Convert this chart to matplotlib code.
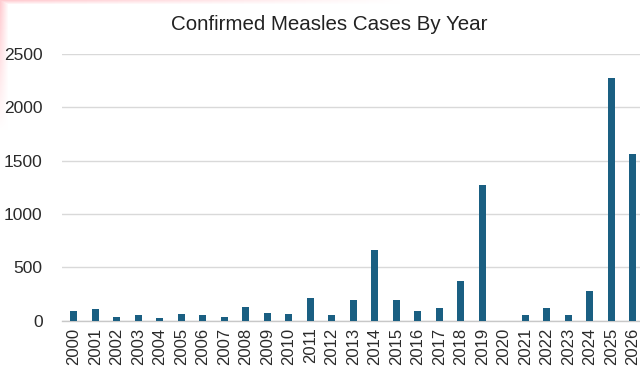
import matplotlib
matplotlib.use('Agg')
import matplotlib.pyplot as plt
import numpy as np

plt.rcParams['font.family'] = ['Liberation Sans', 'DejaVu Sans']

# Confirmed measles cases per year
years = [str(y) for y in range(2000, 2027)]
cases = [88, 110, 38, 50, 28, 63, 50, 38, 128, 75, 63, 213,
         50, 191, 660, 191, 88, 122, 376, 1272, 0, 50, 122, 50,
         282, 2278, 1565]

bar_color = '#1a5f82'
grid_color = '#d9d9d9'

fig = plt.figure(figsize=(6.4, 3.7), dpi=100)

# faint pink wash along the top and left edges
bg = fig.add_axes([0, 0, 1, 1], zorder=-10)
h, w = 370, 640
yy, xx = np.mgrid[0:h, 0:w]
top = np.clip(1 - yy / 4.0, 0, 1) * np.clip(1 - xx / 400.0, 0, 1)
left = np.clip(1 - xx / 8.0, 0, 1) * np.clip(1 - yy / 130.0, 0, 1)
strength = np.clip(np.maximum(top, left) * 0.2, 0, 1)
img = np.ones((h, w, 3))
img[..., 1] -= strength
img[..., 2] -= strength * 0.9
bg.imshow(img, aspect='auto', extent=(0, w, h, 0))
bg.axis('off')

ax = fig.add_axes([0.097, 0.1335, 0.903, 0.7205])
x = np.arange(len(years))
ax.bar(x, cases, width=0.34, color=bar_color, zorder=3)

ax.set_xlim(-0.54, 26.34)
ax.set_ylim(0, 2500)
ax.set_yticks([0, 500, 1000, 1500, 2000, 2500])
ax.set_xticks(x)
ax.set_xticklabels(years, rotation=90, fontsize=12, color='#2a2a2a')
ax.tick_params(axis='y', labelsize=12.5, labelcolor='#2a2a2a', length=0, pad=14)
ax.tick_params(axis='x', length=0, pad=5)

ax.grid(axis='y', color=grid_color, linewidth=1, zorder=0)
for side in ['top', 'right', 'left']:
    ax.spines[side].set_visible(False)
ax.spines['bottom'].set_color('#c8c8c8')
ax.spines['bottom'].set_linewidth(1)
ax.set_facecolor('none')

fig.text(0.515, 0.935, 'Confirmed Measles Cases By Year', ha='center', va='center',
         fontsize=14.8, color='#222222')

fig.savefig('out.png', dpi=100)
